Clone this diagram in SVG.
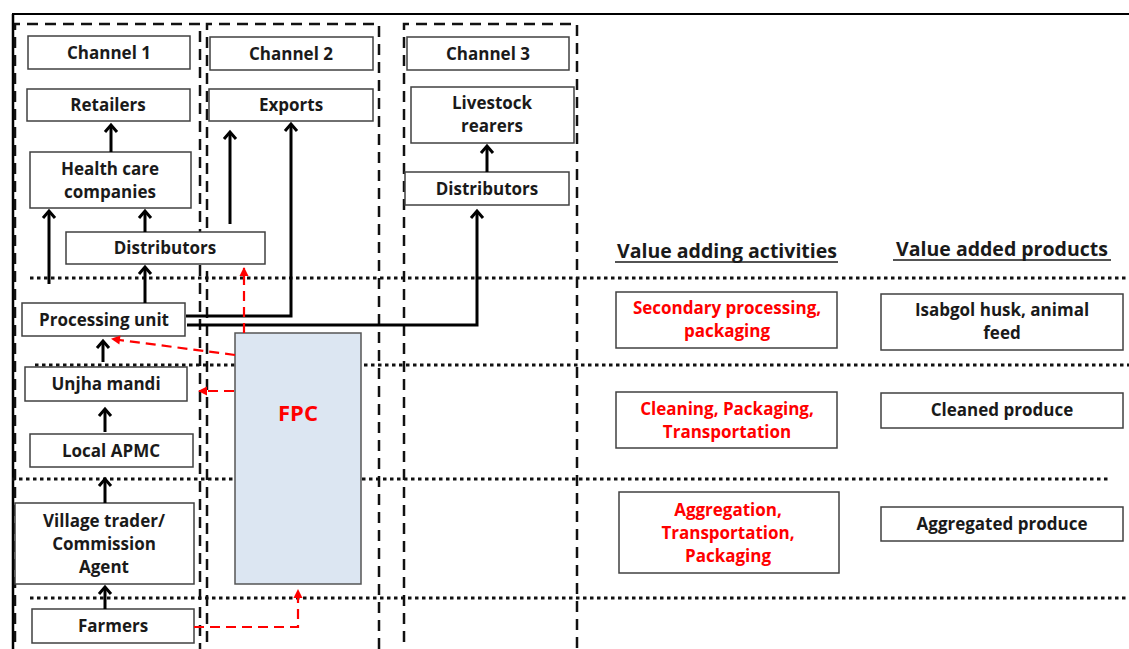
<svg xmlns="http://www.w3.org/2000/svg" width="1129" height="649" viewBox="0 0 1129 649">
<style>
.box{fill:#fff;stroke:#404040;stroke-width:1.5}
.t{font-family:"Open Sans","Liberation Sans",sans-serif;font-weight:700;font-size:17px;fill:#1a1a1a;text-anchor:middle}
.r{fill:#ff0000}
.h{font-family:"Open Sans","Liberation Sans",sans-serif;font-weight:700;font-size:19.5px;fill:#1a1a1a;text-anchor:middle}
.ch{fill:none;stroke:#111;stroke-width:2.5;stroke-dasharray:11 7}
.dot{fill:none;stroke:#111;stroke-width:3;stroke-dasharray:3.5 3.5}
.ar{fill:none;stroke:#000;stroke-width:3}
.rd{fill:none;stroke:#ff0000;stroke-width:2.2;stroke-dasharray:10 6}
</style>
<defs>
<marker id="ah" markerUnits="userSpaceOnUse" markerWidth="20" markerHeight="20" refX="0" refY="0" viewBox="-10 -10 20 20" orient="auto" overflow="visible">
<path d="M-7,-6 L0,0 L-7,6" fill="none" stroke="#000" stroke-width="3"/>
</marker>
<marker id="rh" markerUnits="userSpaceOnUse" markerWidth="20" markerHeight="20" refX="0" refY="0" viewBox="-10 -10 20 20" orient="auto" overflow="visible">
<path d="M1,0 L-8,-4.5 L-8,4.5 Z" fill="#ff0000"/>
</marker>
</defs>
<rect width="1129" height="649" fill="#fff"/>
<g id="frame">
<line x1="12" y1="14" x2="1129" y2="14" stroke="#000" stroke-width="2"/>
<line x1="13" y1="14" x2="13" y2="649" stroke="#000" stroke-width="2.5"/>
</g>
<g id="channels">
<path class="ch" d="M15,660 V24 H200 V660"/>
<path class="ch" d="M207,660 V24 H379 V660"/>
<path class="ch" d="M404,660 V24 H577 V660"/>
</g>
<g id="levels">
<line class="dot" x1="30" y1="278" x2="1129" y2="278"/>
<line class="dot" x1="35" y1="365" x2="1129" y2="365"/>
<line class="dot" x1="12" y1="479" x2="1110" y2="479"/>
<line class="dot" x1="30" y1="598" x2="1129" y2="598"/>
</g>
<g id="ch1-title"><rect class="box" x="28" y="36" width="162" height="33"/><text class="t" x="109" y="59">Channel 1</text></g>
<g id="retailers"><rect class="box" x="27" y="89" width="163" height="32"/><text class="t" x="108" y="111">Retailers</text></g>
<g id="healthcare"><rect class="box" x="30" y="152" width="161" height="56"/><text class="t" x="110" y="175">Health care</text><text class="t" x="110" y="198">companies</text></g>
<g id="distributors1"><rect class="box" x="66" y="232" width="199" height="32"/><text class="t" x="165" y="254">Distributors</text></g>
<g id="processing"><rect class="box" x="22" y="303" width="163" height="33"/><text class="t" x="104" y="326">Processing unit</text></g>
<g id="unjha"><rect class="box" x="25" y="367" width="162" height="34"/><text class="t" x="106" y="390">Unjha mandi</text></g>
<g id="apmc"><rect class="box" x="30" y="434" width="163" height="33"/><text class="t" x="111" y="457">Local APMC</text></g>
<g id="village"><rect class="box" x="15" y="503" width="179" height="81"/><text class="t" x="104" y="527">Village trader/</text><text class="t" x="104" y="550">Commission</text><text class="t" x="104" y="573">Agent</text></g>
<g id="farmers"><rect class="box" x="32" y="609" width="162" height="34"/><text class="t" x="113" y="632">Farmers</text></g>
<g id="ch2-title"><rect class="box" x="210" y="37" width="163" height="33"/><text class="t" x="291" y="60">Channel 2</text></g>
<g id="exports"><rect class="box" x="209" y="89" width="164" height="32"/><text class="t" x="291" y="111">Exports</text></g>
<g id="fpc"><rect x="235" y="333" width="126" height="251" fill="#dce6f2" stroke="#555" stroke-width="1.5"/><text x="298" y="421" font-family="'Open Sans','Liberation Sans',sans-serif" font-weight="700" font-size="22" fill="#ff0000" text-anchor="middle">FPC</text></g>
<g id="ch3-title"><rect class="box" x="407" y="37" width="162" height="33"/><text class="t" x="488" y="60">Channel 3</text></g>
<g id="livestock"><rect class="box" x="411" y="87" width="163" height="56"/><text class="t" x="492" y="109">Livestock</text><text class="t" x="492" y="132">rearers</text></g>
<g id="distributors3"><rect class="box" x="405" y="172" width="164" height="33"/><text class="t" x="487" y="195">Distributors</text></g>
<g id="headings">
<text class="h" x="727" y="258">Value adding activities</text>
<line x1="615" y1="262" x2="838" y2="262" stroke="#1a1a1a" stroke-width="1.5"/>
<text class="h" x="1002" y="256">Value added products</text>
<line x1="893" y1="260" x2="1111" y2="260" stroke="#1a1a1a" stroke-width="1.5"/>
</g>
<g id="act1"><rect class="box" x="616" y="292" width="221" height="56"/><text class="t r" x="727" y="314">Secondary processing,</text><text class="t r" x="727" y="337">packaging</text></g>
<g id="prod1"><rect class="box" x="881" y="294" width="242" height="56"/><text class="t" x="1002" y="316">Isabgol husk, animal</text><text class="t" x="1002" y="339">feed</text></g>
<g id="act2"><rect class="box" x="616" y="392" width="221" height="56"/><text class="t r" x="727" y="415">Cleaning, Packaging,</text><text class="t r" x="727" y="438">Transportation</text></g>
<g id="prod2"><rect class="box" x="881" y="393" width="242" height="35"/><text class="t" x="1002" y="416">Cleaned produce</text></g>
<g id="act3"><rect class="box" x="619" y="492" width="220" height="81"/><text class="t r" x="728" y="516">Aggregation,</text><text class="t r" x="728" y="539">Transportation,</text><text class="t r" x="728" y="562">Packaging</text></g>
<g id="prod3"><rect class="box" x="881" y="507" width="242" height="34"/><text class="t" x="1002" y="530">Aggregated produce</text></g>
<g id="connectors">
<line class="ar" x1="111" y1="152" x2="111" y2="125" marker-end="url(#ah)"/>
<line class="ar" x1="49" y1="284" x2="49" y2="211" marker-end="url(#ah)"/>
<line class="ar" x1="145" y1="232" x2="145" y2="211" marker-end="url(#ah)"/>
<line class="ar" x1="145" y1="303" x2="145" y2="267" marker-end="url(#ah)"/>
<line class="ar" x1="230" y1="224" x2="230" y2="132" marker-end="url(#ah)"/>
<polyline class="ar" points="186,316 291,316 291,124" marker-end="url(#ah)"/>
<polyline class="ar" points="187,325 477,325 477,211" marker-end="url(#ah)"/>
<line class="ar" x1="487" y1="172" x2="487" y2="146" marker-end="url(#ah)"/>
<line class="ar" x1="103" y1="362" x2="103" y2="341" marker-end="url(#ah)"/>
<line class="ar" x1="105" y1="432" x2="105" y2="409" marker-end="url(#ah)"/>
<line class="ar" x1="105" y1="503" x2="105" y2="479" marker-end="url(#ah)"/>
<line class="ar" x1="105" y1="609" x2="105" y2="587" marker-end="url(#ah)"/>
<line class="rd" x1="244" y1="333" x2="244" y2="268" marker-end="url(#rh)"/>
<line class="rd" x1="235" y1="355" x2="112" y2="339" marker-end="url(#rh)"/>
<line class="rd" x1="234" y1="391" x2="199" y2="391" marker-end="url(#rh)"/>
<polyline class="rd" points="194,627 298,627 298,590" marker-end="url(#rh)"/>
</g>
</svg>
